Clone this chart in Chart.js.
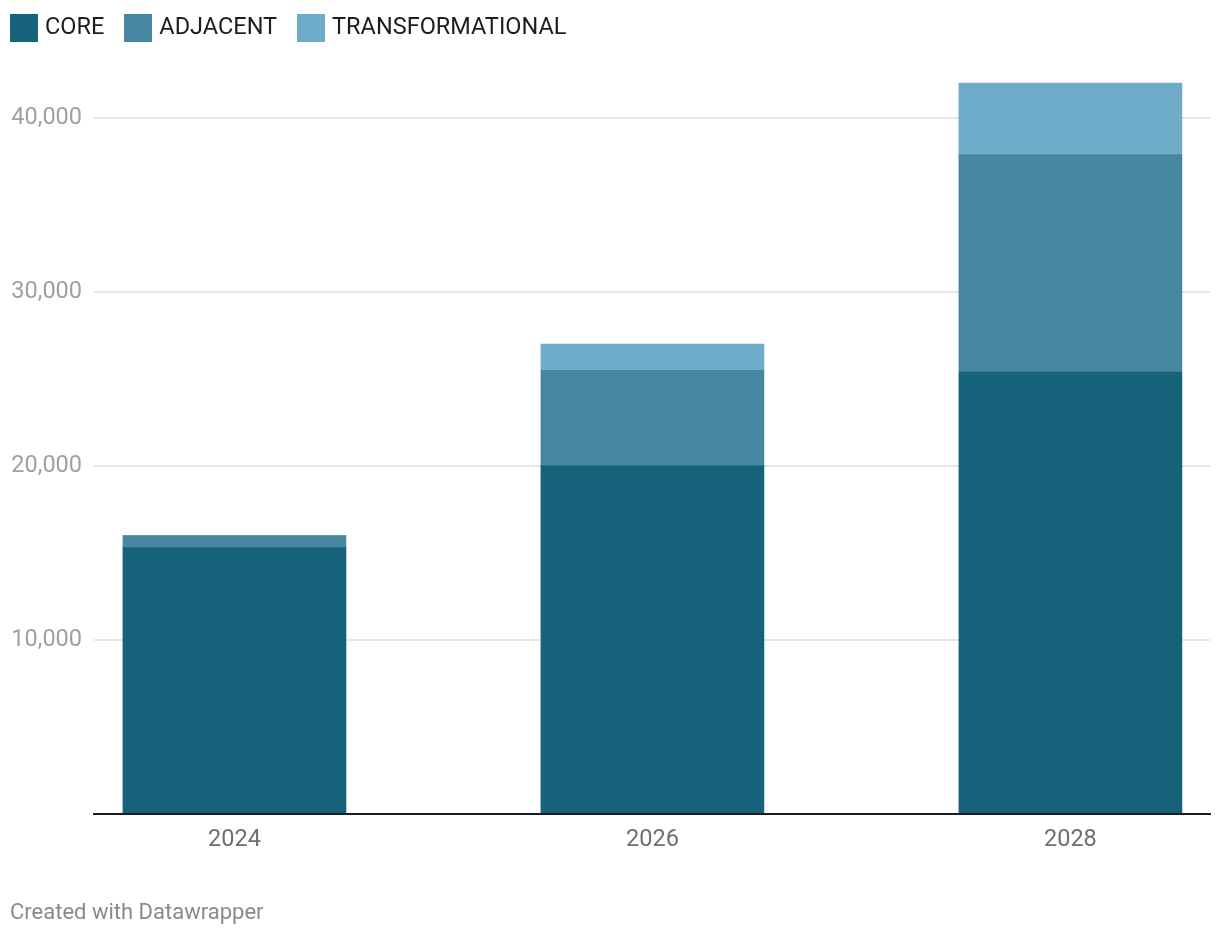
<!DOCTYPE html>
<html>
<head>
<meta charset="utf-8">
<script src="https://cdn.jsdelivr.net/npm/chart.js@4/dist/chart.umd.min.js"></script>
<style>
  html, body { margin: 0; padding: 0; background: #ffffff; }
  #wrap { position: relative; width: 1220px; height: 938px; }
  #c { position: absolute; left: 0; top: 0; }
  #legend { position: absolute; left: 10px; top: 14px; display: flex; gap: 20px; font-family: Roboto, sans-serif; font-size: 23.5px; color: #1d1d1d; }
  .item { display: flex; align-items: center; height: 28px; }
  .sw { width: 28px; height: 28px; margin-right: 7px; }
  .lbl { position: relative; top: -2px; line-height: 28px; white-space: nowrap; }
  #footer { position: absolute; left: 10px; top: 900px; font-family: Roboto, sans-serif; font-size: 22px; line-height: 24px; color: #8a8a8a; }
</style>
</head>
<body>
<div id="wrap">
  <canvas id="c" width="1220" height="938"></canvas>
  <div id="legend"></div>
  <div id="footer">Created with Datawrapper</div>
</div>
<script>
// ---- data ----
const categories = ['2024', '2026', '2028'];
const coreValues = [15300, 20000, 25400];
const adjacentValues = [700, 5500, 12500];
const transformationalValues = [0, 1500, 4100];
const yTickValues = [10000, 20000, 30000, 40000];
const seriesNames = ['CORE', 'ADJACENT', 'TRANSFORMATIONAL'];
const seriesColors = ['#17627b', '#4686a1', '#6eacc9'];

const toPoints = (vals) => categories.map((c, i) => ({ x: Number(c), y: vals[i] }));

const datasets = [coreValues, adjacentValues, transformationalValues].map((vals, i) => ({
  label: seriesNames[i],
  data: toPoints(vals),
  backgroundColor: seriesColors[i],
  borderWidth: 0,
  barThickness: 223
}));

// legend (HTML)
const legendEl = document.getElementById('legend');
seriesNames.forEach((name, i) => {
  const item = document.createElement('div');
  item.className = 'item';
  const sw = document.createElement('div');
  sw.className = 'sw';
  sw.style.background = seriesColors[i];
  const lbl = document.createElement('span');
  lbl.className = 'lbl';
  lbl.textContent = name;
  item.appendChild(sw);
  item.appendChild(lbl);
  legendEl.appendChild(item);
});

new Chart(document.getElementById('c'), {
  type: 'bar',
  data: { datasets },
  options: {
    responsive: false,
    animation: false,
    devicePixelRatio: 1,
    layout: { padding: { top: 48.4, left: 0, right: 10, bottom: 72 } },
    plugins: {
      tooltip: { enabled: false },
      legend: { display: false }
    },
    scales: {
      x: {
        type: 'linear',
        stacked: true,
        offset: false,
        min: 2023.328,
        max: 2028.668,
        afterBuildTicks: (scale) => { scale.ticks = categories.map(c => ({ value: Number(c) })); },
        ticks: {
          padding: 12,
          color: '#6f6f6f',
          font: { family: 'Roboto', size: 23.5 },
          callback: (v) => String(v)
        },
        grid: { display: false, drawTicks: false },
        border: { display: true, color: '#1d1d1d', width: 2, z: 1 }
      },
      y: {
        stacked: true,
        min: 0,
        max: 44000,
        afterBuildTicks: (scale) => { scale.ticks = yTickValues.map(v => ({ value: v })); },
        afterFit: (scale) => { scale.width = 94; },
        ticks: {
          padding: 12,
          color: '#a0a0a0',
          font: { family: 'Roboto', size: 23.5 },
          callback: (v) => Number(v).toLocaleString('en-US')
        },
        grid: { color: '#e6e6e6', lineWidth: 2, drawTicks: false },
        border: { display: false }
      }
    }
  }
});
</script>
</body>
</html>
